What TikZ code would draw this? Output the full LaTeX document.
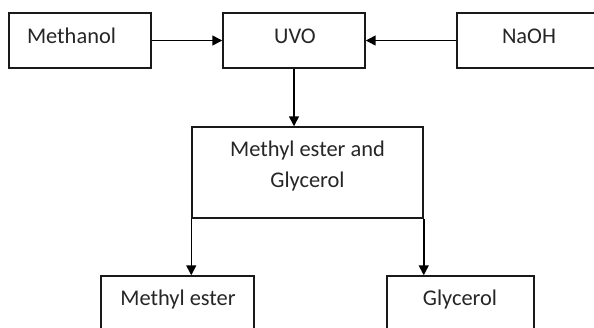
\documentclass[tikz,border=0pt]{standalone}
\usepackage{fontspec}
\setmainfont{Carlito}
\usetikzlibrary{arrows.meta}
\tikzset{
  box/.style={draw=black!90, line width=1.5pt, rectangle, inner sep=0pt, fill=white},
  lbl/.style={inner sep=0pt, font=\fontsize{22.5}{27}\selectfont, text=black!85},
  arr/.style={draw=black, line width=1.5pt, -{Triangle[length=10pt,width=10pt]}}
}
\begin{document}
\begin{tikzpicture}[x=1bp,y=-1bp]
\useasboundingbox (0,0) rectangle (594,327);
\clip (0,0) rectangle (594,327);
\fill[white] (0,0) rectangle (594,327);
\node[box, minimum width=142bp, minimum height=55bp] (meth) at (80,40.5) {};
\node[box, minimum width=142bp, minimum height=55bp] (uvo) at (294,40.5) {};
\node[box, minimum width=150bp, minimum height=55bp] (naoh) at (532,40.5) {};
\node[box, minimum width=231bp, minimum height=91bp] (mix) at (307.5,172.5) {};
\node[box, minimum width=153bp, minimum height=70bp] (mest) at (177.5,311) {};
\node[box, minimum width=147bp, minimum height=70bp] (gly) at (460.5,311) {};
\node[lbl] (methT) at (71.5,36) {Methanol};
\node[lbl] (uvoT) at (295,36) {UVO};
\node[lbl] (naohT) at (529,36) {NaOH};
\node[lbl, align=center] (mixT) at (307.5,166) {Methyl ester and\\[5pt]Glycerol};
\node[lbl] (mestT) at (178,300) {Methyl ester};
\node[lbl] (glyT) at (460,300) {Glycerol};
\draw[arr] (meth.east) -- (uvo.west);
\draw[arr] (naoh.west) -- (uvo.east);
\draw[arr] (uvo.south) -- (uvo.south |- mix.north);
\draw[arr] (mix.south west) -- (mix.south west |- mest.north);
\draw[arr] (mix.south east) -- (mix.south east |- gly.north);
\end{tikzpicture}
\end{document}
